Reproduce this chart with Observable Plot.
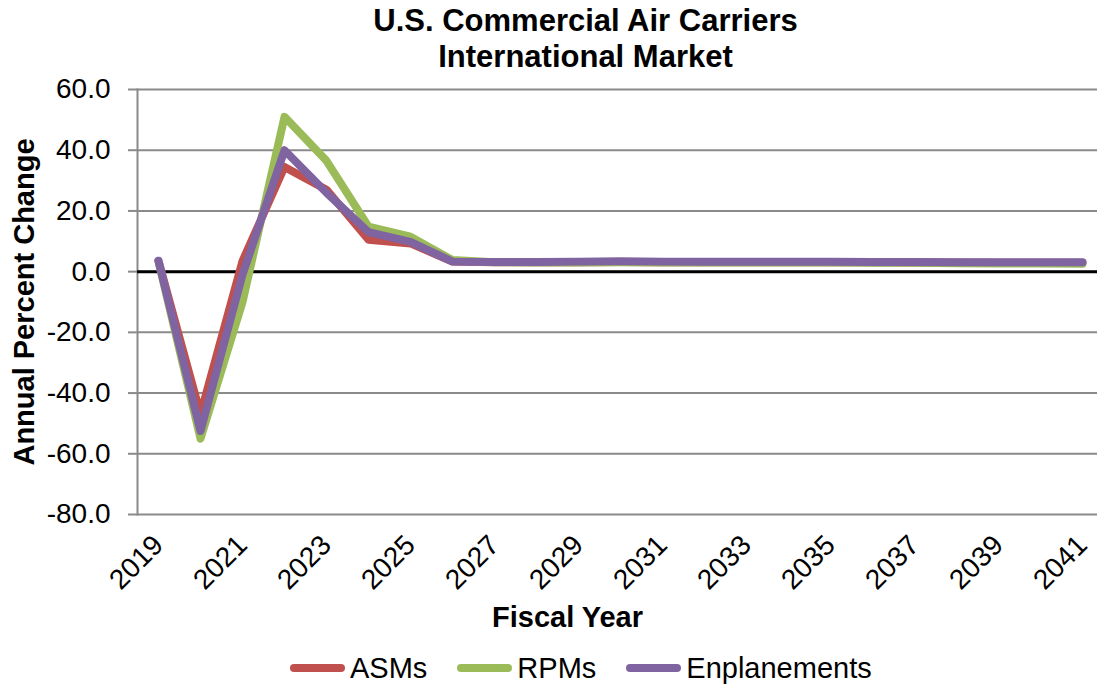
<!DOCTYPE html>
<html>
<head>
<meta charset="utf-8">
<script src="https://cdn.jsdelivr.net/npm/d3@7"></script>
<script src="https://cdn.jsdelivr.net/npm/@observablehq/plot@0.6"></script>
<style>
  body { margin: 0; background: #fff; font-family: "Liberation Sans", Arial, sans-serif; }
  #wrap { position: relative; width: 1097px; height: 687px; overflow: hidden; }
  #legend { position: absolute; top: 650px; left: 290px; height: 36px; display: flex; align-items: center; font-size: 29px; color: #000; }
  .item { display: flex; align-items: center; margin-right: 30px; }
  .sw { width: 55px; height: 8px; border-radius: 4px; margin-right: 5px; }
</style>
</head>
<body>
<div id="wrap"><div id="legend"></div></div>
<script>
const years = [2019, 2020, 2021, 2022, 2023, 2024, 2025, 2026, 2027, 2028, 2029, 2030,
               2031, 2032, 2033, 2034, 2035, 2036, 2037, 2038, 2039, 2040, 2041];
const asms = [3.5, -47.0, 3.5, 34.5, 27.0, 10.5, 9.3, 3.3, 3.1, 3.1, 3.1, 3.2,
              3.1, 3.1, 3.1, 3.1, 3.1, 3.1, 3.0, 3.0, 2.9, 2.9, 2.9];
const rpms = [3.3, -55.0, -10.0, 51.0, 36.5, 14.8, 11.5, 3.8, 3.1, 3.0, 3.0, 3.1,
              3.0, 3.0, 3.0, 3.0, 3.0, 2.9, 2.9, 2.8, 2.7, 2.7, 2.6];
const enplanements = [3.6, -52.5, -1.0, 40.0, 26.0, 13.0, 9.8, 3.3, 3.2, 3.2, 3.3, 3.4,
                      3.3, 3.3, 3.3, 3.3, 3.3, 3.2, 3.2, 3.1, 3.1, 3.1, 3.1];
const seriesNames = ["ASMs", "RPMs", "Enplanements"];
const seriesColors = ["#C0504D", "#9BBB59", "#8064A2"];
const yTicks = [-80, -60, -40, -20, 0, 20, 40, 60];
const xTickYears = [2019, 2021, 2023, 2025, 2027, 2029, 2031, 2033, 2035, 2037, 2039, 2041];
const titleText = "U.S. Commercial Air Carriers\nInternational Market";
const yLabel = "Annual Percent Change";
const xLabel = "Fiscal Year";

const seriesValues = [asms, rpms, enplanements];
const data = [];
seriesNames.forEach((name, i) => {
  years.forEach((yr, j) => data.push({series: name, year: yr, value: seriesValues[i][j]}));
});

const font = '"Liberation Sans", Arial, sans-serif';
const chart = Plot.plot({
  width: 1097,
  height: 687,
  marginTop: 89,
  marginBottom: 173,
  marginLeft: 137,
  marginRight: 0,
  style: {fontFamily: font, background: "white", color: "black", overflow: "visible"},
  x: {type: "linear", domain: [2018.5, 2041.5], range: [137, 1103]},
  y: {domain: [-80, 60]},
  color: {domain: seriesNames, range: seriesColors},
  marks: [
    Plot.gridY(yTicks, {stroke: "#8a8a8a", strokeOpacity: 1, strokeWidth: 2}),
    Plot.frame({anchor: "left", stroke: "#8a8a8a", strokeWidth: 2}),
    Plot.axisY({ticks: yTicks, tickFormat: d => d.toFixed(1), tickSize: 9, tickPadding: 18,
                fontSize: 28, stroke: "#8a8a8a", strokeWidth: 2, label: null}),
    Plot.axisX({ticks: xTickYears, tickFormat: d => String(d), tickRotate: -45, tickSize: 0,
                tickPadding: 26, fontSize: 28, label: null}),
    Plot.ruleY([0], {stroke: "black", strokeWidth: 3}),
    Plot.line(data, {x: "year", y: "value", z: "series", stroke: "series", strokeWidth: 8,
                     strokeLinecap: "round", strokeLinejoin: "round"}),
    Plot.text([titleText], {frameAnchor: "top", dx: -32, dy: -52, fontSize: 31, fontWeight: "bold",
                            lineHeight: 1.17, lineAnchor: "middle", text: d => d}),
    Plot.text([yLabel], {frameAnchor: "left", dx: -113, rotate: -90, fontSize: 29, fontWeight: "bold",
                         textAnchor: "middle", lineAnchor: "middle", text: d => d}),
    Plot.text([xLabel], {frameAnchor: "bottom", dx: -50, dy: 103, fontSize: 29, fontWeight: "bold",
                         lineAnchor: "middle", text: d => d})
  ]
});
document.getElementById("wrap").prepend(chart);

const legend = document.getElementById("legend");
seriesNames.forEach((name, i) => {
  const item = document.createElement("div");
  item.className = "item";
  const sw = document.createElement("div");
  sw.className = "sw";
  sw.style.background = seriesColors[i];
  const label = document.createElement("span");
  label.textContent = name;
  item.append(sw, label);
  legend.append(item);
});
</script>
</body>
</html>
